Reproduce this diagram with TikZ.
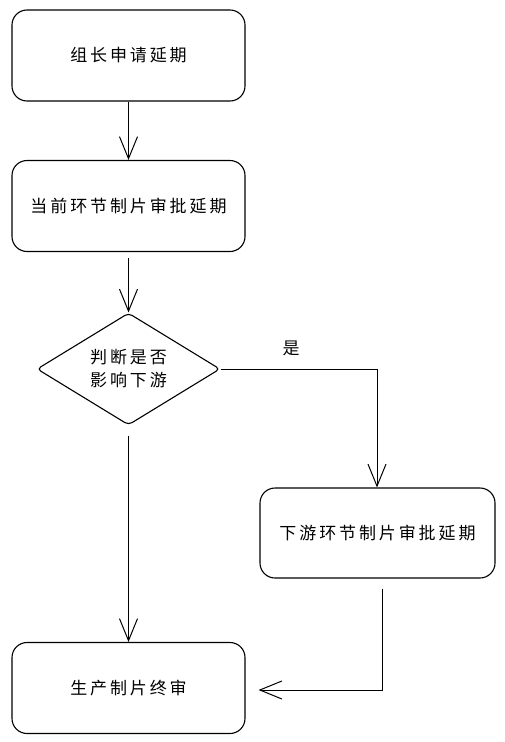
\documentclass[tikz,border=0pt]{standalone}
\usepackage{fontspec}
\newfontfamily\cjk[LetterSpace=17]{Noto Sans CJK SC}
\usepackage{tikz}
\usetikzlibrary{positioning, arrows.meta, shapes.geometric}

\tikzset{
  stepbox/.style={draw, line width=1.1pt, rounded corners=15pt,
    minimum width=233pt, minimum height=91pt, inner sep=0pt,
    font=\cjk\fontsize{17}{20}\selectfont},
  decide/.style={draw, line width=1.1pt, diamond, aspect=1.63, rounded corners=4pt,
    minimum width=183pt, minimum height=112pt, inner sep=0pt, align=center,
    font=\cjk\fontsize{17}{23}\selectfont},
  flow/.style={line width=1pt, -{Straight Barb[length=22pt, width=18pt, line width=1pt]}}
}

\begin{document}
\begin{tikzpicture}[x=1pt, y=-1pt]
  \useasboundingbox (0,0) rectangle (505,742);
  \node[stepbox] (apply) at (128.5,55.5) {组长申请延期};
  \node[stepbox] (curapprove) at (128.5,206) {当前环节制片审批延期};
  \node[decide] (check) at (128.5,369) {判断是否\\影响下游};
  \node[stepbox, minimum width=235pt, minimum height=90pt] (downapprove) at (377.5,533) {下游环节制片审批延期};
  \node[stepbox] (final) at (128.5,688) {生产制片终审};
  \coordinate (turn) at (377,369);
  \coordinate (back) at (382,690);

  \draw[flow] (apply) -- (curapprove);
  \draw[flow, shorten <=6pt] (curapprove) -- (check);
  \draw[flow, shorten <=10pt] (check) -- (final);
  \draw[flow] (check.east) -- (turn) -- (downapprove.north -| turn);
  \node[font=\cjk\fontsize{17}{20}\selectfont] (yes) at (291,348) {是};
  \draw[flow, shorten <=10pt, shorten >=13pt] (downapprove.south -| back) -- (back) -- (final.east |- back);
\end{tikzpicture}
\end{document}
